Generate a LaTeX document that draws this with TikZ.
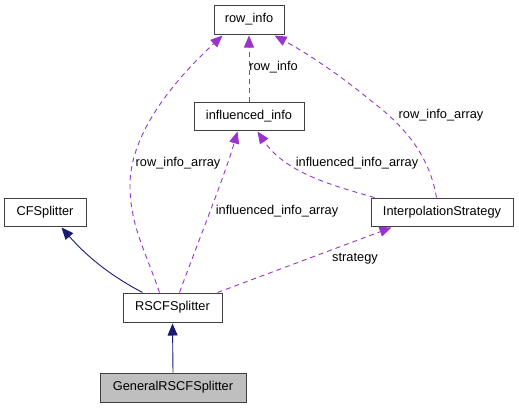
\documentclass[tikz,border=0pt]{standalone}
\usepackage{fontspec}
\setmainfont{Liberation Sans}
\usetikzlibrary{arrows.meta,calc}
\definecolor{dep}{HTML}{9A32CD}
\definecolor{inh}{HTML}{191970}
\definecolor{boxline}{HTML}{404040}
\begin{document}
\begin{tikzpicture}[x=1pt,y=-1pt,
  cls/.style={draw=boxline,line width=1pt,fill=white,inner sep=0pt,font=\fontsize{12.8}{14}\selectfont},
  lbl/.style={font=\fontsize{12.8}{14}\selectfont,inner sep=0pt},
  usage/.style={draw=dep,line width=0.9pt,dash pattern=on 5pt off 4pt,-{Triangle[length=12pt,width=10pt]}},
  inherit/.style={draw=inh,line width=0.9pt,-{Triangle[length=12pt,width=10pt]}}]
\useasboundingbox (0,0) rectangle (519,408);
\node[cls,minimum width=70pt,minimum height=29pt] (rowinfo) at (249,19.5) {row\_info};
\node[cls,minimum width=110pt,minimum height=28pt] (infl) at (249,116) {influenced\_info};
\node[cls,minimum width=82pt,minimum height=28pt] (cfs) at (45,212) {CFSplitter};
\node[cls,minimum width=142pt,minimum height=28pt] (interp) at (442,212) {InterpolationStrategy};
\node[cls,minimum width=99pt,minimum height=29pt] (rscf) at (172.5,307.5) {RSCFSplitter};
\node[cls,fill={rgb,255:red,191;green,191;blue,191},minimum width=146pt,minimum height=29pt] (gen) at (173,387.5) {GeneralRSCFSplitter};
% usage edges
\draw[usage] ($(rscf.north west)+(37,0)$) .. controls (145,250) and (130,225) .. (130,185) .. controls (130,130) and (180,75) .. ($(rowinfo.south west)+(9,1)$);
\draw[usage] ($(rscf.north west)+(57,0)$) .. controls (195,250) and (225,175) .. ($(infl.south west)+(44,1)$);
\draw[usage] (infl.north) -- ($(rowinfo.south)+(0,1)$);
\draw[usage] ($(interp.north west)+(4,0)$) .. controls (330,185) and (285,172) .. ($(infl.south west)+(64,1)$);
\draw[usage] ($(interp.north west)+(66,0)$) .. controls (430,160) and (410,130) .. (370,100) .. controls (340,75) and (305,52) .. ($(rowinfo.south east)+(-10,1)$);
\draw[usage] ($(rscf.north east)+(-5,0)$) -- ($(interp.south west)+(21,1)$);
% inheritance
\draw[inherit] ($(rscf.north west)+(20,0)$) .. controls (115,278) and (90,260) .. ($(cfs.south west)+(58,1)$);
\draw[inherit] (gen.north) -- ($(rscf.south)+(0,1)$);
% labels
\node[lbl] (l1) at (178,163) {row\_info\_array};
\node[lbl] (l2) at (277,211) {influenced\_info\_array};
\node[lbl] (l3) at (273.5,67) {row\_info};
\node[lbl] (l4) at (357,163) {influenced\_info\_array};
\node[lbl] (l5) at (441,115) {row\_info\_array};
\node[lbl] (l6) at (355,259) {strategy};
\end{tikzpicture}
\end{document}
